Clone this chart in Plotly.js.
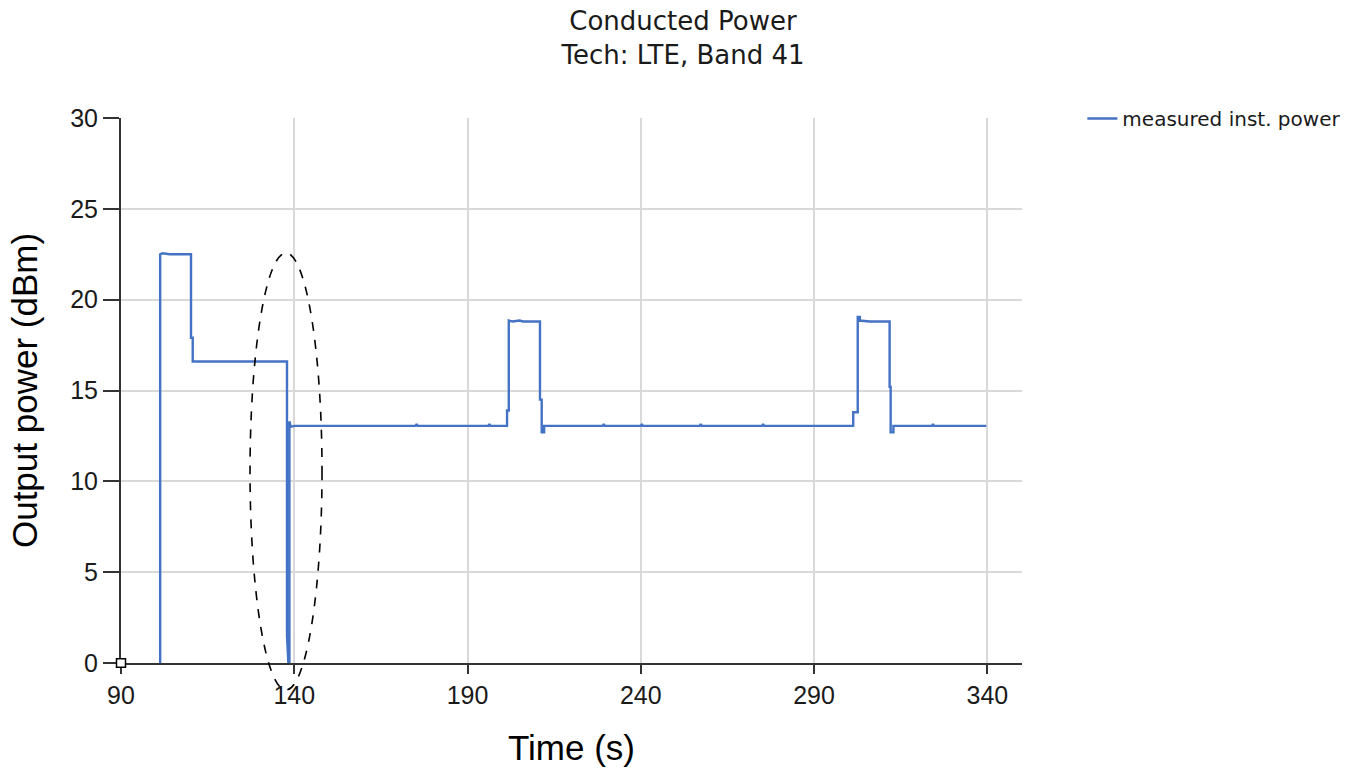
<!DOCTYPE html>
<html>
<head>
<meta charset="utf-8">
<script src="https://cdn.plot.ly/plotly-3.0.1.min.js"></script>
<style>html,body{margin:0;padding:0;background:#fff;}#chart{width:1366px;height:768px;}</style>
</head>
<body>
<div id="chart"></div>
<script>
// Time (s) and measured instantaneous power (dBm)
const timeS = [
  101.3, 101.3, 102.0, 104.0, 106.0, 108.0, 110.2, 110.2, 110.7, 110.7,
  115.0, 120.0, 125.0, 130.0, 135.0, 137.9, 137.9, 138.3, 138.6, 138.6,
  139.0, 140.0, 150.0, 160.0, 175.0, 175.3, 175.6, 190.0, 196.0, 196.3,
  196.6, 201.4, 201.4, 201.9, 201.9, 203.0, 205.0, 206.0, 208.0, 210.9,
  210.9, 211.4, 211.4, 212.1, 212.1, 220.0, 229.0, 229.3, 229.6, 240.0,
  240.3, 240.6, 257.0, 257.3, 257.6, 275.0, 275.3, 275.6, 290.0, 301.3,
  301.3, 302.6, 302.6, 303.2, 303.2, 306.0, 309.0, 311.8, 311.8, 312.1,
  312.1, 312.9, 312.9, 318.0, 324.0, 324.3, 324.6, 332.0, 339.7
];
const powerDbm = [
  0, 22.5, 22.55, 22.5, 22.5, 22.5, 22.5, 17.9, 17.9, 16.6,
  16.6, 16.6, 16.6, 16.6, 16.6, 16.6, 1.5, 0, 0, 13.3,
  13.0, 13.05, 13.05, 13.05, 13.05, 13.15, 13.05, 13.05, 13.05, 13.15,
  13.05, 13.05, 13.9, 13.9, 18.85, 18.8, 18.85, 18.8, 18.8, 18.8,
  14.5, 14.5, 12.7, 12.7, 13.05, 13.05, 13.05, 13.15, 13.05, 13.05,
  13.15, 13.05, 13.05, 13.15, 13.05, 13.05, 13.15, 13.05, 13.05, 13.05,
  13.8, 13.8, 19.05, 19.05, 18.85, 18.8, 18.8, 18.8, 15.2, 15.2,
  12.7, 12.7, 13.05, 13.05, 13.05, 13.15, 13.05, 13.05, 13.05
];
const seriesName = 'measured inst. power';
const xTicks = [90, 140, 190, 240, 290, 340];
const yTicks = [0, 5, 10, 15, 20, 25, 30];

const trace = {
  x: timeS, y: powerDbm, type: 'scatter', mode: 'lines', name: seriesName,
  line: {color: '#4472C4', width: 2.4}
};

const layout = {
  width: 1366, height: 768,
  paper_bgcolor: '#ffffff', plot_bgcolor: '#ffffff',
  margin: {l: 121, r: 344, t: 118, b: 105},
  title: {
    text: 'Conducted Power<br>Tech: LTE, Band 41',
    font: {family: 'DejaVu Sans', size: 26, color: '#1a1a1a'},
    x: 0.5, xref: 'container', y: 0.961, yref: 'container', yanchor: 'middle'
  },
  showlegend: true,
  legend: {
    x: 1.067, xanchor: 'left', y: 1.035, yanchor: 'top',
    font: {family: 'DejaVu Sans', size: 20, color: '#1a1a1a'},
    bgcolor: 'rgba(0,0,0,0)'
  },
  xaxis: {
    range: [90, 350], tickvals: xTicks, ticktext: xTicks.map(String),
    showgrid: true, gridcolor: '#d9d9d9', gridwidth: 2,
    showline: true, linecolor: '#333333', linewidth: 2,
    ticks: 'outside', ticklen: 9, tickwidth: 2, tickcolor: '#333333',
    tickfont: {family: 'Liberation Sans', size: 25, color: '#1a1a1a'},
    zeroline: false,
    title: {text: 'Time (s)', font: {family: 'Liberation Sans', size: 35, color: '#000'}, standoff: 27}
  },
  yaxis: {
    range: [0, 30], tickvals: yTicks, ticktext: yTicks.map(String),
    showgrid: true, gridcolor: '#d9d9d9', gridwidth: 2,
    showline: true, linecolor: '#333333', linewidth: 2,
    ticks: 'outside', ticklen: 16, tickwidth: 2, tickcolor: '#333333',
    tickfont: {family: 'Liberation Sans', size: 25, color: '#1a1a1a'},
    zeroline: false,
    title: {text: 'Output power (dBm)', font: {family: 'Liberation Sans', size: 35, color: '#000'}, standoff: 22}
  },
  shapes: [
    {type: 'circle', xref: 'paper', yref: 'paper', x0: 0.1432, x1: 0.2231, y0: -0.0495, y1: 0.7523,
     line: {color: '#000', width: 1.6, dash: 'dash'}, layer: 'above'},
    {type: 'rect', xref: 'paper', yref: 'paper', x0: -0.005, x1: 0.005, y0: -0.008, y1: 0.008,
     line: {color: '#000', width: 1.5}, fillcolor: '#fff', layer: 'above'}
  ]
};

Plotly.newPlot('chart', [trace], layout, {displayModeBar: false, responsive: false});
</script>
</body>
</html>
